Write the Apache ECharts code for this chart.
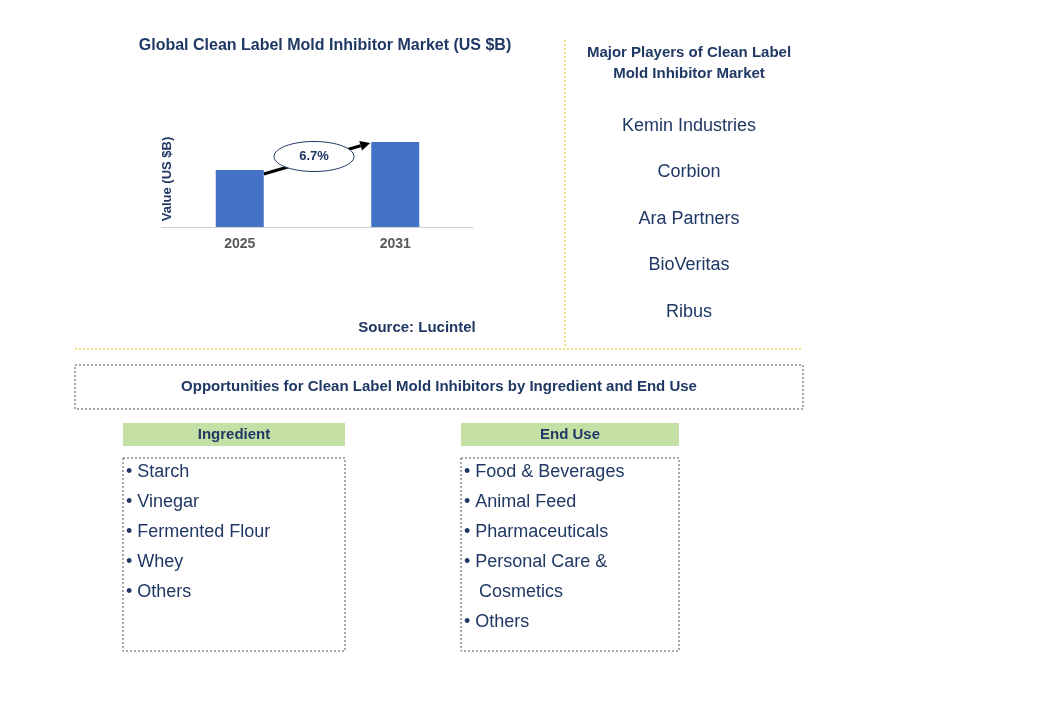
<!DOCTYPE html>
<html><head><meta charset="utf-8">
<script src="https://cdn.jsdelivr.net/npm/echarts@6/dist/echarts.min.js"></script>
<style>html,body{margin:0;background:#fff}#main{width:1060px;height:712px}</style>
</head><body><div id="main"></div>
<script>
var years = ['2025', '2031'];
var values = [0.57, 0.85];
var cagr = '6.7%';
var players = ['Kemin Industries', 'Corbion', 'Ara Partners', 'BioVeritas', 'Ribus'];
var ingredients = ['• Starch', '• Vinegar', '• Fermented Flour', '• Whey', '• Others'];
var endUses = ['• Food & Beverages', '• Animal Feed', '• Pharmaceuticals', '• Personal Care &', '   Cosmetics', '• Others'];

var navy = '#1f3864';
var font = 'Arial, "Liberation Sans", sans-serif';
var chart = echarts.init(document.getElementById('main'));

function txt(x, y, text, f, align) {
  return { type: 'text', x: x, y: y, style: { text: text, fill: navy, font: f + ' ' + font, align: align || 'left', verticalAlign: 'middle' } };
}
function listTexts(items, x, y0) {
  return items.map(function (t, i) { return txt(x, y0 + i * 30, t, '18px'); });
}

var graphics = [
  txt(325, 46, 'Global Clean Label Mold Inhibitor Market (US $B)', 'bold 16px', 'center'),
  { type: 'text', x: 167, y: 179, rotation: Math.PI / 2, style: { text: 'Value (US $B)', fill: navy, font: 'bold 13px ' + font, align: 'center', verticalAlign: 'middle' } },
  txt(417, 328, 'Source: Lucintel', 'bold 15px', 'center'),
  { type: 'line', shape: { x1: 565, y1: 40, x2: 565, y2: 348 }, style: { stroke: '#f0c000', lineDash: [2, 2], lineWidth: 1 } },
  { type: 'line', shape: { x1: 75, y1: 349, x2: 802, y2: 349 }, style: { stroke: '#f0c000', lineDash: [2, 2], lineWidth: 1 } },
  { type: 'text', x: 689, y: 63, style: { text: 'Major Players of Clean Label\nMold Inhibitor Market', fill: navy, font: 'bold 15px ' + font, align: 'center', verticalAlign: 'middle', lineHeight: 21 } },
  { type: 'rect', shape: { x: 75, y: 365, width: 728, height: 44 }, style: { fill: 'none', stroke: '#555', lineDash: [2, 2] } },
  txt(439, 387, 'Opportunities for Clean Label Mold Inhibitors by Ingredient and End Use', 'bold 15px', 'center'),
  { type: 'rect', shape: { x: 123, y: 423, width: 222, height: 23 }, style: { fill: '#c5e0a5' } },
  txt(234, 435, 'Ingredient', 'bold 15px', 'center'),
  { type: 'rect', shape: { x: 461, y: 423, width: 218, height: 23 }, style: { fill: '#c5e0a5' } },
  txt(570, 435, 'End Use', 'bold 15px', 'center'),
  { type: 'rect', shape: { x: 123, y: 458, width: 222, height: 193 }, style: { fill: 'none', stroke: '#555', lineDash: [2, 2] } },
  { type: 'rect', shape: { x: 461, y: 458, width: 218, height: 193 }, style: { fill: 'none', stroke: '#555', lineDash: [2, 2] } }
];
players.forEach(function (p, i) {
  graphics.push(txt(689, 126 + i * 46.5, p, '18px', 'center'));
});
graphics = graphics.concat(listTexts(ingredients, 126, 472), listTexts(endUses, 464, 472));

chart.setOption({
  animation: false,
  grid: { left: 162, width: 311, top: 127, height: 100 },
  xAxis: { type: 'category', data: years, axisTick: { show: false },
    axisLine: { lineStyle: { color: '#d0d0d0' } },
    axisLabel: { color: '#595959', fontWeight: 'bold', fontSize: 14, margin: 10, fontFamily: font } },
  yAxis: { type: 'value', min: 0, max: 1, show: false, splitLine: { show: false } },
  series: [{ type: 'bar', data: values, barWidth: 48, itemStyle: { color: '#4472c4' } }],
  graphic: graphics
});

// CAGR arrow between the bar tops
var p1 = chart.convertToPixel({ gridIndex: 0 }, [0, values[0]]);
var p2 = chart.convertToPixel({ gridIndex: 0 }, [1, values[1]]);
var x1 = p1[0] + 24, y1 = p1[1] + 4, x2 = p2[0] - 25, y2 = p2[1] + 1;
var ang = Math.atan2(y2 - y1, x2 - x1), L = 10;
var cx = (x1 + x2) / 2, cy = (y1 + y2) / 2;
chart.setOption({ graphic: graphics.concat([
  { type: 'line', shape: { x1: x1, y1: y1, x2: x2 - L * Math.cos(ang), y2: y2 - L * Math.sin(ang) }, style: { stroke: '#000', lineWidth: 3 } },
  { type: 'polygon', shape: { points: [[x2, y2],
      [x2 - L * Math.cos(ang) + 5 * Math.sin(ang), y2 - L * Math.sin(ang) - 5 * Math.cos(ang)],
      [x2 - L * Math.cos(ang) - 5 * Math.sin(ang), y2 - L * Math.sin(ang) + 5 * Math.cos(ang)]] }, style: { fill: '#000' } },
  { type: 'ellipse', shape: { cx: cx - 3, cy: cy - 2, rx: 40, ry: 15 }, style: { fill: '#fff', stroke: '#1f3864', lineWidth: 1 } },
  { type: 'text', x: cx - 3, y: cy - 2, style: { text: cagr, fill: navy, font: 'bold 13px ' + font, align: 'center', verticalAlign: 'middle' } }
]) }, { replaceMerge: ['graphic'] });
</script></body></html>
